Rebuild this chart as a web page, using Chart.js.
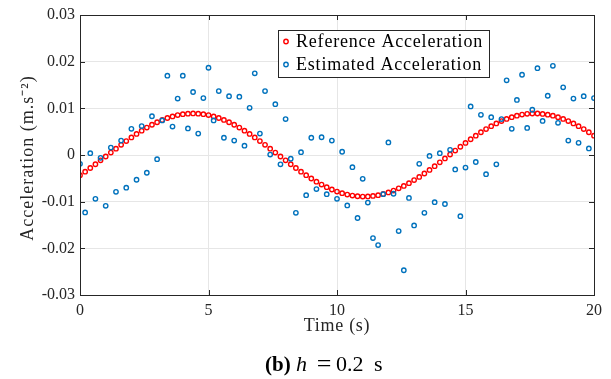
<!DOCTYPE html>
<html>
<head>
<meta charset="utf-8">
<script src="https://cdn.jsdelivr.net/npm/chart.js@4.4.1/dist/chart.umd.min.js"></script>
<style>
html, body { margin: 0; padding: 0; background: #fff; }
#wrap { width: 611px; height: 379px; }
</style>
</head>
<body>
<div id="wrap"><canvas id="myChart" width="611" height="379"></canvas></div>
<script>
// sample step of both series (s)
const timeStep = 0.2;

const referenceAccel = [
  -0.00433, -0.00358, -0.00279, -0.00198, -0.00115, -0.00032, 0.00052, 0.00136, 0.00218, 0.00299,
  0.00377, 0.00451, 0.00521, 0.00587, 0.00648, 0.00702, 0.00751, 0.00793, 0.00827, 0.00855,
  0.00874, 0.00886, 0.00890, 0.00886, 0.00874, 0.00855, 0.00827, 0.00793, 0.00751, 0.00702,
  0.00648, 0.00587, 0.00521, 0.00451, 0.00377, 0.00299, 0.00218, 0.00136, 0.00052, -0.00032,
  -0.00115, -0.00198, -0.00279, -0.00358, -0.00433, -0.00504, -0.00571, -0.00633, -0.00689, -0.00739,
  -0.00783, -0.00819, -0.00848, -0.00870, -0.00884, -0.00890, -0.00888, -0.00878, -0.00860, -0.00835,
  -0.00802, -0.00762, -0.00715, -0.00662, -0.00603, -0.00538, -0.00469, -0.00396, -0.00319, -0.00239,
  -0.00157, -0.00074, 0.00011, 0.00094, 0.00177, 0.00259, 0.00338, 0.00414, 0.00487, 0.00555,
  0.00618, 0.00676, 0.00727, 0.00773, 0.00811, 0.00843, 0.00867, 0.00883, 0.00889, 0.00889,
  0.00881, 0.00865, 0.00842, 0.00811, 0.00773, 0.00727, 0.00676, 0.00618, 0.00555, 0.00487,
  0.00414
];

const estimatedAccel = [
  -0.0019, -0.0123, 0.0004, -0.0094, -0.0006, -0.0109, 0.0016, -0.0079, 0.0031, -0.0070,
  0.0056, -0.0053, 0.0062, -0.0038, 0.0083, -0.0009, 0.0074, 0.0170, 0.0061, 0.0121,
  0.0170, 0.0057, 0.0135, 0.0046, 0.0122, 0.0187, 0.0074, 0.0137, 0.0037, 0.0126,
  0.0031, 0.0125, 0.0020, 0.0101, 0.0175, 0.0046, 0.0137, 0.0001, 0.0109, -0.0020,
  0.0077, -0.0008, -0.0124, 0.0006, -0.0086, 0.0037, -0.0073, 0.0038, -0.0084, 0.0031,
  -0.0094, 0.0007, -0.0108, -0.0026, -0.0135, -0.0051, -0.0102, -0.0178, -0.0193, -0.0084,
  0.0027, -0.0083, -0.0163, -0.0247, -0.0092, -0.0151, -0.0019, -0.0124, -0.0002, -0.0101,
  0.0004, -0.0105, 0.0011, -0.0031, -0.0131, -0.0027, 0.0104, -0.0015, 0.0086, -0.0041,
  0.0081, -0.0020, 0.0077, 0.0160, 0.0056, 0.0118, 0.0172, 0.0058, 0.0097, 0.0186,
  0.0073, 0.0127, 0.0191, 0.0069, 0.0145, 0.0031, 0.0121, 0.0026, 0.0126, 0.0014,
  0.0122
];

const xTicks = [0, 5, 10, 15, 20];
const yTicks = [-0.03, -0.02, -0.01, 0, 0.01, 0.02, 0.03];
const seriesNames = ['Reference Acceleration', 'Estimated Acceleration'];
const seriesColors = ['#ff0000', '#0072bd'];
const xTitle = 'Time (s)';
const yTitle = 'Acceleration (m.s\u207B\u00B2)';

const serif = '"Liberation Serif", "Times New Roman", serif';
const times = referenceAccel.map((_, i) => +(i * timeStep).toFixed(1));
const toPoints = vals => vals.map((v, i) => ({ x: times[i], y: v }));

// MATLAB-style box, inward ticks, axis titles, inner legend and the caption
const matlabFrame = {
    id: 'matlabFrame',
    afterDraw(chart) {
        const { ctx, chartArea: a, scales } = chart;
        ctx.save();
        ctx.strokeStyle = '#262626';
        ctx.lineWidth = 1;
        ctx.beginPath();
        xTicks.forEach(t => {
            const px = Math.round(scales.x.getPixelForValue(t)) + 0.5;
            ctx.moveTo(px, a.bottom); ctx.lineTo(px, a.bottom - 5);
            ctx.moveTo(px, a.top); ctx.lineTo(px, a.top + 5);
        });
        yTicks.forEach(t => {
            const py = Math.round(scales.y.getPixelForValue(t)) + 0.5;
            ctx.moveTo(a.left, py); ctx.lineTo(a.left + 5, py);
            ctx.moveTo(a.right, py); ctx.lineTo(a.right - 5, py);
        });
        ctx.stroke();
        ctx.strokeRect(Math.round(a.left) + 0.5, Math.round(a.top) + 0.5,
            Math.round(a.right - a.left), Math.round(a.bottom - a.top));

        // axis titles (wider spacing, closer to the LaTeX look)
        ctx.fillStyle = '#262626';
        ctx.font = '18px ' + serif;
        ctx.letterSpacing = '0.7px';
        ctx.textAlign = 'center';
        ctx.textBaseline = 'middle';
        ctx.fillText(xTitle, (a.left + a.right) / 2, 326);
        ctx.save();
        ctx.translate(28, 158);
        ctx.rotate(-Math.PI / 2);
        ctx.letterSpacing = '1px';
        ctx.fillText(yTitle, 0, 0);
        ctx.restore();

        // legend
        const lx = 278.5, ly = 30.5, lw = 211, lh = 47;
        ctx.fillStyle = '#fff';
        ctx.fillRect(lx, ly, lw, lh);
        ctx.strokeStyle = '#262626';
        ctx.strokeRect(lx, ly, lw, lh);
        ctx.font = '18px ' + serif;
        ctx.letterSpacing = '0.8px';
        ctx.textAlign = 'left';
        seriesNames.forEach((name, i) => {
            const y = 41.5 + i * 23;
            ctx.beginPath();
            ctx.arc(286, y, 2.2, 0, Math.PI * 2);
            ctx.strokeStyle = seriesColors[i];
            ctx.lineWidth = 1.4;
            ctx.stroke();
            ctx.fillStyle = '#000';
            ctx.fillText(name, 296, y + 1);
        });

        // caption "(b) h = 0.2 s"
        ctx.letterSpacing = '0px';
        ctx.textBaseline = 'alphabetic';
        ctx.fillStyle = '#000';
        const base = 371;
        ctx.font = 'bold 21px ' + serif;
        ctx.fillText('(b)', 265, base);
        ctx.font = 'italic 22px ' + serif;
        ctx.fillText('h', 296, base);
        ctx.font = '26px ' + serif;
        ctx.textAlign = 'center';
        ctx.fillText('=', 324, base + 1);
        ctx.textAlign = 'left';
        ctx.font = '22px ' + serif;
        ctx.fillText('0.2', 336, base);
        ctx.fillText('s', 374, base);
        ctx.restore();
    }
};

const ctx = document.getElementById('myChart').getContext('2d');
new Chart(ctx, {
    type: 'scatter',
    data: {
        datasets: [
            {
                label: seriesNames[0],
                data: toPoints(referenceAccel),
                borderColor: seriesColors[0],
                backgroundColor: 'rgba(255,255,255,0)',
                pointRadius: 2.2,
                borderWidth: 1.4,
                order: 2
            },
            {
                label: seriesNames[1],
                data: toPoints(estimatedAccel),
                borderColor: seriesColors[1],
                backgroundColor: 'rgba(255,255,255,0)',
                pointRadius: 2.2,
                borderWidth: 1.4,
                order: 1
            }
        ]
    },
    options: {
        responsive: false,
        animation: false,
        layout: { padding: { left: 17, right: 17, top: 15, bottom: 42 } },
        plugins: {
            legend: { display: false },
            tooltip: { enabled: false }
        },
        scales: {
            x: {
                type: 'linear',
                min: 0,
                max: 20,
                afterBuildTicks: s => { s.ticks = xTicks.map(v => ({ value: v })); },
                afterFit: s => { s.height = 42; },
                ticks: { color: '#262626', padding: 6, font: { family: serif, size: 16 } },
                grid: { color: '#e6e6e6', drawTicks: false },
                border: { display: false }
            },
            y: {
                min: -0.03,
                max: 0.03,
                afterBuildTicks: s => { s.ticks = yTicks.map(v => ({ value: v })); },
                afterFit: s => { s.width = 63; },
                ticks: {
                    color: '#262626', padding: 5, font: { family: serif, size: 16 },
                    callback: v => Math.abs(v) < 1e-9 ? '0' : v.toFixed(2)
                },
                grid: { color: '#e6e6e6', drawTicks: false },
                border: { display: false }
            }
        }
    },
    plugins: [matlabFrame]
});
</script>
</body>
</html>
